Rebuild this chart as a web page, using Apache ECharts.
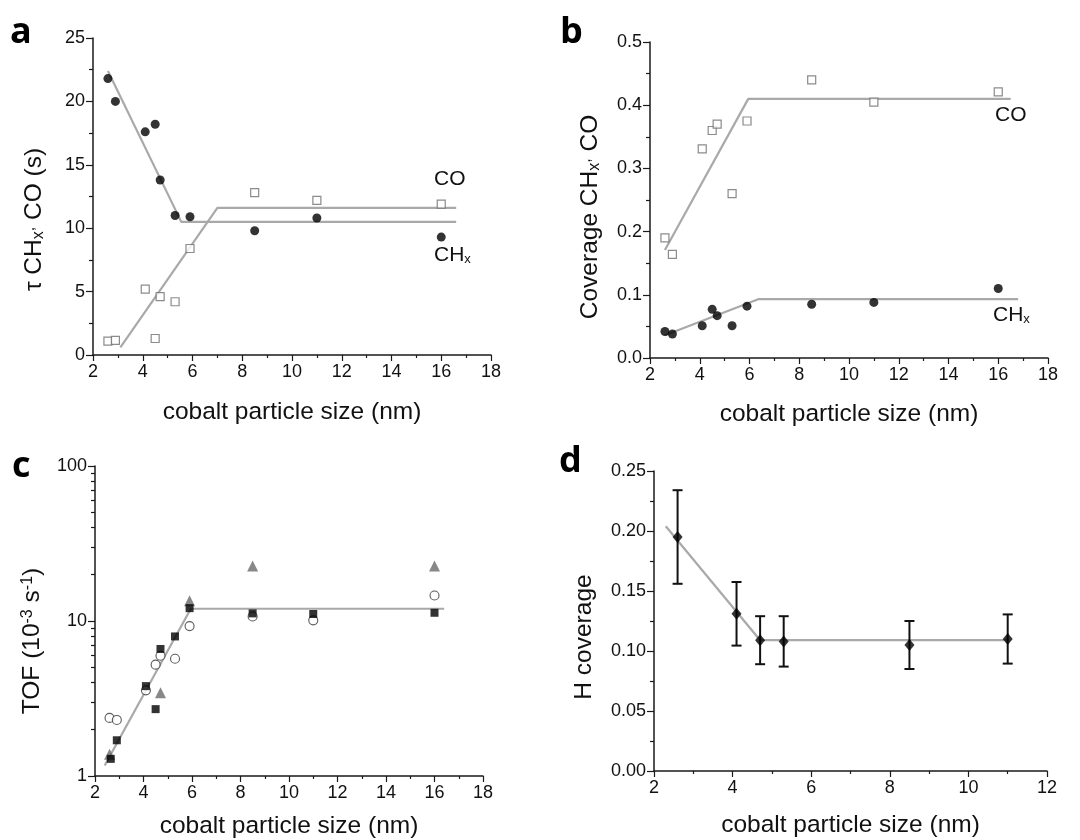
<!DOCTYPE html>
<html>
<head>
<meta charset="utf-8">
<script src="https://cdn.jsdelivr.net/npm/echarts@6/dist/echarts.min.js"></script>
<style>
html,body{margin:0;padding:0;background:#fff;}
#main{width:1080px;height:840px;}
</style>
</head>
<body>
<div id="main"></div>
<script>
// ---------- Data ----------
// Panel a: residence time tau (s)
const sizeA = [2.6, 2.9, 4.1, 4.5, 4.7, 5.3, 5.9, 8.5, 11, 16];
const tauCHx = [21.8, 20.0, 17.6, 18.2, 13.8, 11.0, 10.9, 9.8, 10.8, 9.3];
const tauCO = [1.1, 1.15, 5.2, 1.3, 4.6, 4.2, 8.4, 12.8, 12.2, 11.9];
const fitTauCHxX = [2.6, 5.55, 16.6];
const fitTauCHxY = [22.4, 10.5, 10.5];
const fitTauCOX = [3.1, 7.0, 16.6];
const fitTauCOY = [0.6, 11.6, 11.6];

// Panel b: coverage
const covCO = [0.19, 0.164, 0.331, 0.36, 0.37, 0.26, 0.375, 0.44, 0.405, 0.421];
const covCHx = [0.042, 0.038, 0.051, 0.077, 0.067, 0.051, 0.082, 0.085, 0.088, 0.11];
const fitCovCOX = [2.6, 5.95, 16.5];
const fitCovCOY = [0.171, 0.41, 0.41];
const fitCovCHxX = [2.6, 6.35, 16.8];
const fitCovCHxY = [0.036, 0.093, 0.093];

// Panel c: TOF (1e-3 s^-1)
const tofSquareX = [2.65, 2.9, 4.1, 4.5, 4.7, 5.3, 5.9, 8.5, 11, 16];
const tofSquare = [1.29, 1.7, 3.8, 2.7, 6.6, 7.95, 12.1, 11.2, 11.1, 11.3];
const tofCircleX = [2.6, 2.9, 4.1, 4.5, 4.7, 5.3, 5.9, 8.5, 11, 16];
const tofCircle = [2.37, 2.3, 3.57, 5.23, 5.97, 5.71, 9.27, 10.7, 10.1, 14.6];
const tofTriX = [2.6, 4.7, 5.9, 8.5, 16];
const tofTri = [1.38, 3.44, 13.5, 22.6, 22.6];
const fitTofX = [2.4, 5.95, 16.4];
const fitTofY = [1.17, 12.0, 12.0];
const tofMinorTicks = [2, 3, 4, 5, 6, 7, 8, 9, 20, 30, 40, 50, 60, 70, 80, 90];

// Panel d: H coverage with error bars
const sizeD = [2.6, 4.1, 4.7, 5.3, 8.5, 11];
const hCov = [0.195, 0.131, 0.109, 0.108, 0.105, 0.110];
const hErr = [0.039, 0.0265, 0.02, 0.021, 0.02, 0.0205];
const fitHX = [2.3, 4.7, 11.0];
const fitHY = [0.204, 0.109, 0.109];

// ---------- helpers ----------
const zip = (xs, ys) => xs.map((x, i) => [x, ys[i]]);
const FONT = 'Liberation Sans';
const AX = '#1a1a1a';
const LINE_GRAY = '#a9a9a9';
const NAME_SIZE = 24.5;
const tickLabel = { color: '#111', fontSize: 18, fontFamily: FONT, margin: 8 };
const nameStyle = (extra) => Object.assign({ color: '#111', fontSize: NAME_SIZE, fontFamily: FONT }, extra || {});
const richSubSup = {
  sub: { fontSize: 16, fontFamily: FONT, color: '#111', verticalAlign: 'bottom', lineHeight: 14 },
  sup: { fontSize: 16, fontFamily: FONT, color: '#111', verticalAlign: 'top', lineHeight: 14 }
};

function xAxisCfg(gi, max, name, gap) {
  return {
    type: 'value', gridIndex: gi, min: 2, max: max, interval: 2,
    name: name, nameLocation: 'middle', nameGap: gap,
    nameTextStyle: nameStyle(),
    axisLine: { show: true, onZero: false, lineStyle: { color: AX, width: 1.5 } },
    axisTick: { show: true, inside: false, length: 6, lineStyle: { color: AX, width: 1.2 } },
    minorTick: { show: true, splitNumber: 2, length: 3, lineStyle: { color: AX, width: 1.2 } },
    axisLabel: tickLabel,
    splitLine: { show: false }
  };
}
function yAxisCfg(gi, min, max, interval, minorSplit, fmt, name, gap, shiftPad, rich) {
  return {
    type: 'value', gridIndex: gi, min: min, max: max, interval: interval,
    name: name, nameLocation: 'middle', nameGap: gap, nameRotate: 90,
    nameTextStyle: nameStyle({ padding: [0, shiftPad, 0, 0], rich: rich ? richSubSup : undefined }),
    axisLine: { show: true, onZero: false, lineStyle: { color: AX, width: 1.5 } },
    axisTick: { show: true, inside: false, length: 7, lineStyle: { color: AX, width: 1.2 } },
    minorTick: { show: true, splitNumber: minorSplit, length: 4, lineStyle: { color: AX, width: 1.2 } },
    axisLabel: Object.assign({}, tickLabel, { formatter: fmt }),
    splitLine: { show: false }
  };
}
function fitLine(xi, yi, xs, ys) {
  return {
    type: 'line', xAxisIndex: xi, yAxisIndex: yi, data: zip(xs, ys),
    symbol: 'none', silent: true, animation: false,
    lineStyle: { color: LINE_GRAY, width: 2.2 }, z: 1
  };
}
function scatter(xi, yi, xs, ys, symbol, size, style, z) {
  return {
    type: 'scatter', xAxisIndex: xi, yAxisIndex: yi, data: zip(xs, ys),
    symbol: symbol, symbolSize: size, itemStyle: style, animation: false, z: z || 3
  };
}
const subRich = { sub: { fontSize: 13, fontFamily: FONT, verticalAlign: 'bottom', lineHeight: 12, fill: '#111' } };

const chart = echarts.init(document.getElementById('main'), null, { renderer: 'canvas' });

const option = {
  backgroundColor: '#ffffff',
  animation: false,
  grid: [
    { left: 93, top: 38, width: 398, height: 317 },
    { left: 650, top: 42, width: 398, height: 316 },
    { left: 95, top: 466, width: 388, height: 311 },
    { left: 654, top: 471, width: 393, height: 300 }
  ],
  xAxis: [
    xAxisCfg(0, 18, 'cobalt particle size (nm)', 45),
    xAxisCfg(1, 18, 'cobalt particle size (nm)', 44),
    xAxisCfg(2, 18, 'cobalt particle size (nm)', 38),
    xAxisCfg(3, 12, 'cobalt particle size (nm)', 42)
  ],
  yAxis: [
    yAxisCfg(0, 0, 25, 5, 2, (v) => String(v), 'τ CH{sub|x}{sup|,} CO (s)', 46, 46, true),
    yAxisCfg(1, 0, 0.5, 0.1, 2, (v) => v.toFixed(1), 'Coverage CH{sub|x}{sup|,} CO', 47, 34, true),
    {
      type: 'log', logBase: 10, gridIndex: 2, min: 1, max: 100, position: 'left',
      name: 'TOF (10{sup|-3} s{sup|-1})', nameLocation: 'middle', nameGap: 50, nameRotate: 90,
      nameTextStyle: nameStyle({ padding: [0, 40, 0, 0], rich: richSubSup }),
      axisLine: { show: true, onZero: false, lineStyle: { color: AX, width: 1.5 } },
      axisTick: { show: true, length: 7, lineStyle: { color: AX, width: 1.2 } },
      axisLabel: Object.assign({}, tickLabel, { formatter: (v) => String(Math.round(v)) }),
      splitLine: { show: false }
    },
    yAxisCfg(3, 0, 0.25, 0.05, 2, (v) => v.toFixed(2), 'H coverage', 57, 32, false),
    {
      type: 'log', logBase: 10, gridIndex: 2, min: 1, max: 100, position: 'left', offset: 0,
      axisLine: { show: false },
      axisTick: { show: true, length: 4, customValues: tofMinorTicks, lineStyle: { color: AX, width: 1.2 } },
      axisLabel: { show: false },
      splitLine: { show: false }
    }
  ],
  series: [
    // panel a
    fitLine(0, 0, fitTauCHxX, fitTauCHxY),
    fitLine(0, 0, fitTauCOX, fitTauCOY),
    scatter(0, 0, sizeA, tauCHx, 'circle', 9, { color: '#000' }),
    scatter(0, 0, sizeA, tauCO, 'rect', 8, { color: '#fff', borderColor: '#6e6e6e', borderWidth: 1.2 }),
    // panel b
    fitLine(1, 1, fitCovCOX, fitCovCOY),
    fitLine(1, 1, fitCovCHxX, fitCovCHxY),
    scatter(1, 1, sizeA, covCO, 'rect', 8, { color: '#fff', borderColor: '#6e6e6e', borderWidth: 1.2 }),
    scatter(1, 1, sizeA, covCHx, 'circle', 9, { color: '#000' }),
    // panel c
    fitLine(2, 2, fitTofX, fitTofY),
    scatter(2, 2, tofCircleX, tofCircle, 'circle', 9, { color: '#fff', borderColor: '#333', borderWidth: 1.1 }, 3),
    scatter(2, 2, tofTriX, tofTri, 'triangle', 11, { color: '#6a6a6a' }, 4),
    scatter(2, 2, tofSquareX, tofSquare, 'rect', 8, { color: '#000' }, 5),
    // panel d
    fitLine(3, 3, fitHX, fitHY),
    {
      type: 'custom', xAxisIndex: 3, yAxisIndex: 3, animation: false, z: 3,
      data: sizeD.map((x, i) => [x, hCov[i] - hErr[i], hCov[i] + hErr[i]]),
      renderItem: function (params, api) {
        const x = api.value(0);
        const lo = api.coord([x, api.value(1)]);
        const hi = api.coord([x, api.value(2)]);
        const hw = 5;
        const st = { stroke: '#111', lineWidth: 2 };
        return {
          type: 'group',
          children: [
            { type: 'line', shape: { x1: hi[0], y1: hi[1], x2: lo[0], y2: lo[1] }, style: st },
            { type: 'line', shape: { x1: hi[0] - hw, y1: hi[1], x2: hi[0] + hw, y2: hi[1] }, style: st },
            { type: 'line', shape: { x1: lo[0] - hw, y1: lo[1], x2: lo[0] + hw, y2: lo[1] }, style: st }
          ]
        };
      }
    },
    scatter(3, 3, sizeD, hCov, 'diamond', [10, 12], { color: '#000' }, 5)
  ],
  graphic: [
    { type: 'text', left: 10, top: 15, style: { text: 'a', font: 'bold 36px "Open Sans"', fill: '#000' } },
    { type: 'text', left: 560, top: 15, style: { text: 'b', font: 'bold 36px "Open Sans"', fill: '#000' } },
    { type: 'text', left: 12, top: 449, style: { text: 'c', font: 'bold 36px "Open Sans"', fill: '#000' } },
    { type: 'text', left: 559, top: 444, style: { text: 'd', font: 'bold 36px "Open Sans"', fill: '#000' } },
    { type: 'text', left: 434, top: 169, style: { text: 'CO', font: '21px "Liberation Sans"', fill: '#111' } },
    { type: 'text', left: 434, top: 245, style: { text: 'CH{sub|x}', font: '21px "Liberation Sans"', fill: '#111', rich: subRich } },
    { type: 'text', left: 995, top: 105, style: { text: 'CO', font: '21px "Liberation Sans"', fill: '#111' } },
    { type: 'text', left: 993, top: 305, style: { text: 'CH{sub|x}', font: '21px "Liberation Sans"', fill: '#111', rich: subRich } }
  ]
};
chart.setOption(option);
</script>
</body>
</html>
